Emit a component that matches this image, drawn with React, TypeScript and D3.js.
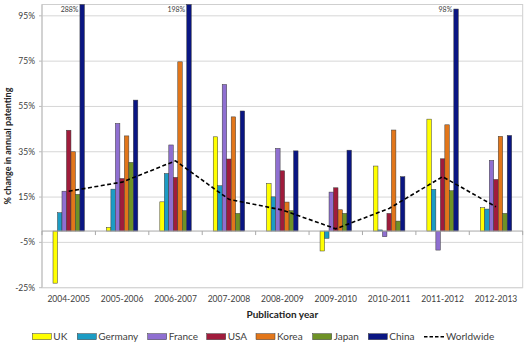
import { useEffect, useRef } from "react";
import * as d3 from "d3";

const years = ["2004-2005", "2005-2006", "2006-2007", "2007-2008", "2008-2009", "2009-2010", "2010-2011", "2011-2012", "2012-2013"];
const countries = ["UK", "Germany", "France", "USA", "Korea", "Japan", "China"];
const colors = ["#FFFF00", "#1C9CC4", "#8F6FD1", "#A01C3C", "#E2761A", "#6E9226", "#0A1683"];

const uk = [-23, 1.6, 12.9, 41.6, 21, -8.8, 28.7, 49.4, 10.3];
const germany = [8.1, 18.5, 25.4, 20, 15.1, -3.2, 0.5, 18.4, 9.7];
const france = [17.6, 47.5, 38, 64.7, 36.5, 17.2, -2.5, -8.4, 31.2];
const usa = [44.5, 23.2, 23.7, 31.8, 26.6, 19.1, 7.8, 31.9, 22.8];
const korea = [35, 42, 74.7, 50.4, 12.8, 9.4, 44.6, 46.9, 41.8];
const japan = [16.2, 30.3, 9, 7.8, 9, 7.8, 4.4, 17.8, 7.8];
const china = [288, 57.8, 198, 53, 35.4, 35.7, 24, 98, 42.2];
const worldwide = [17.6, 21.6, 31, 14, 9.3, 1, 10, 24, 10.7];

const yTicks = [-25, -5, 15, 35, 55, 75, 95];
const seriesValues = [uk, germany, france, usa, korea, japan, china];

export default function App() {
  const ref = useRef<SVGSVGElement>(null);

  useEffect(() => {
    const width = 529;
    const height = 351;
    const left = 42, right = 522.7, top = 4.5, bottom = 287.7;
    const font = "Lato, 'Open Sans', sans-serif";
    const textColor = "#404040";

    const svg = d3.select(ref.current).attr("width", width).attr("height", height);
    svg.selectAll("*").remove();

    const y = d3.scaleLinear().domain([-25, 100]).range([bottom, top]);
    const x0 = d3.scaleBand().domain(years).range([left, right]).padding(0);
    const x1 = d3.scaleBand().domain(countries).range([0, x0.bandwidth()]).paddingInner(0).paddingOuter(2.45);

    // plot area
    svg.append("rect")
      .attr("x", left).attr("y", top)
      .attr("width", right - left).attr("height", bottom - top)
      .attr("fill", "white").attr("stroke", "#cfcfcf").attr("stroke-width", 1);

    // gridlines
    svg.append("g").selectAll("line").data(yTicks).join("line")
      .attr("x1", left).attr("x2", right)
      .attr("y1", d => y(d)).attr("y2", d => y(d))
      .attr("stroke", "#d6d6d6").attr("stroke-width", 1);

    // y axis line, ticks + labels
    svg.append("line").attr("x1", left).attr("x2", left).attr("y1", top).attr("y2", bottom)
      .attr("stroke", "#bdbdbd");
    svg.append("g").selectAll("line").data(yTicks).join("line")
      .attr("x1", left - 3).attr("x2", left)
      .attr("y1", d => y(d)).attr("y2", d => y(d))
      .attr("stroke", "#bdbdbd");
    svg.append("g").selectAll("text").data(yTicks).join("text")
      .attr("x", left - 7).attr("y", d => y(d) + 3)
      .attr("text-anchor", "end")
      .attr("font-family", font).attr("font-size", 8.5).attr("fill", textColor)
      .text(d => `${d}%`);

    // bars
    const groups = svg.append("g").selectAll("g").data(years).join("g")
      .attr("transform", d => `translate(${x0(d)},0)`);
    groups.selectAll("rect")
      .data((_, i) => countries.map((c, k) => ({ c, k, v: seriesValues[k][i] })))
      .join("rect")
      .attr("x", d => x1(d.c)!)
      .attr("width", x1.bandwidth())
      .attr("y", d => y(Math.max(0, Math.min(d.v, 100))))
      .attr("height", d => Math.abs(y(Math.min(d.v, 100)) - y(0)))
      .attr("fill", d => colors[d.k])
      .attr("stroke", "#3a3a3a").attr("stroke-width", 0.5);

    // clipped value labels
    const over = years.map((yr, i) => ({ yr, v: china[i] })).filter(d => d.v > 95);
    svg.append("g").selectAll("text").data(over).join("text")
      .attr("x", d => x0(d.yr)! + x1("China")! - 1.5)
      .attr("y", top + 7.5)
      .attr("text-anchor", "end")
      .attr("font-family", font).attr("font-size", 7).attr("fill", textColor)
      .text(d => `${Math.round(d.v)}%`);

    // x axis at zero
    svg.append("line").attr("x1", left).attr("x2", right).attr("y1", y(0)).attr("y2", y(0))
      .attr("stroke", "#a8a8a8");
    const bounds = years.map(d => x0(d)!).concat([right]);
    svg.append("g").selectAll("line").data(bounds).join("line")
      .attr("x1", d => d).attr("x2", d => d)
      .attr("y1", y(0)).attr("y2", y(0) + 4)
      .attr("stroke", "#a8a8a8");
    svg.append("g").selectAll("text").data(years).join("text")
      .attr("x", d => x0(d)! + x0.bandwidth() / 2)
      .attr("y", bottom + 14)
      .attr("text-anchor", "middle")
      .attr("font-family", font).attr("font-size", 8.5).attr("fill", textColor)
      .text(d => d);

    // worldwide line
    const line = d3.line<number>()
      .x((_, i) => x0(years[i])! + x0.bandwidth() / 2)
      .y(d => y(d));
    svg.append("path").datum(worldwide)
      .attr("d", line)
      .attr("fill", "none").attr("stroke", "#000").attr("stroke-width", 1.6)
      .attr("stroke-dasharray", "4,2.5");

    // titles
    svg.append("text")
      .attr("x", (left + right) / 2).attr("y", 318)
      .attr("text-anchor", "middle")
      .attr("font-family", font).attr("font-size", 10).attr("font-weight", "bold").attr("fill", "#222")
      .text("Publication year");
    svg.append("text")
      .attr("transform", `translate(10.5,${(top + bottom) / 2}) rotate(-90)`)
      .attr("text-anchor", "middle")
      .attr("font-family", font).attr("font-size", 9).attr("font-weight", "bold").attr("fill", "#222")
      .text("% change in annual patenting");

    // legend
    const legendX = [32.3, 77.3, 147.7, 206.7, 256, 312.7, 368.3];
    const ly = 336.7;
    const lg = svg.append("g");
    countries.forEach((c, k) => {
      lg.append("rect")
        .attr("x", legendX[k]).attr("y", ly - 3)
        .attr("width", 19).attr("height", 6)
        .attr("fill", colors[k]).attr("stroke", "#3a3a3a").attr("stroke-width", 0.5);
      lg.append("text")
        .attr("x", legendX[k] + 21).attr("y", ly + 3.5)
        .attr("font-family", font).attr("font-size", 10).attr("fill", textColor)
        .text(c);
    });
    lg.append("line").attr("x1", 424).attr("x2", 444).attr("y1", ly).attr("y2", ly)
      .attr("stroke", "#000").attr("stroke-width", 1.6).attr("stroke-dasharray", "3.5,2");
    lg.append("text")
      .attr("x", 446).attr("y", ly + 3.5)
      .attr("font-family", font).attr("font-size", 10).attr("fill", textColor)
      .text("Worldwide");
  }, []);

  return <svg ref={ref} style={{ position: "absolute", left: 0, top: 0 }}></svg>;
}
